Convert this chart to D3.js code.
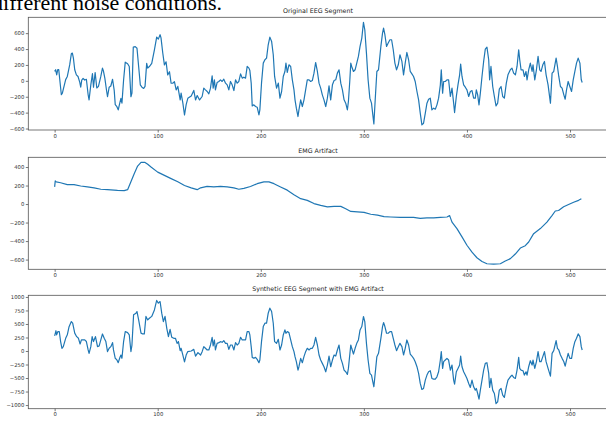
<!DOCTYPE html>
<html>
<head>
<meta charset="utf-8">
<script src="https://cdn.jsdelivr.net/npm/d3@7"></script>
<style>
  body { margin: 0; background: #fff; }
  #chart { width: 606px; height: 421px; overflow: hidden; }
</style>
</head>
<body>
<div id="chart"></div>
<script>
// titles + ticks
var titles = ["Original EEG Segment", "EMG Artifact", "Synthetic EEG Segment with EMG Artifact"];
var xTicks = [0, 100, 200, 300, 400, 500];
var eegTicks = [-600, -400, -200, 0, 200, 400, 600];
var emgTicks = [-600, -400, -200, 0, 200, 400];
var synTicks = [-1000, -750, -500, -250, 0, 250, 500, 750, 1000];
var nSamples = 512;

// original EEG, sample index / value
var eegIdx = [0, 1, 2, 3, 4, 6.5, 7.5, 10.7, 12.3, 14.6, 16.2, 17.2, 18.2, 19.5, 21.1, 22.7, 24.4, 25.3, 26.3, 27.6, 29.2, 30.8, 32.5, 33.4, 35.1, 36.7, 37.7, 39.3, 40.9, 42.5, 44.8, 46.4, 47.4, 48.7, 50.3, 51.3, 52.9, 54.5, 56.2, 57.8, 58.8, 60.4, 61.7, 63.3, 64.3, 65.3, 66.9, 68.5, 70.8, 72.4, 74, 75, 76.3, 78.2, 79.9, 81.5, 83.1, 84.7, 86.4, 87.7, 89.3, 90.3, 91.9, 94.2, 96.8, 99, 100.6, 102.3, 103.2, 104.9, 106.5, 108.1, 109.7, 111.4, 113, 114.6, 116.2, 117.9, 119.5, 121.8, 122.7, 124.4, 126, 127.6, 129.2, 132.5, 135, 136.7, 138.3, 140.6,
  143.1, 144.7, 146.3, 148, 149.6, 151.2, 152.8, 153.8, 155, 156, 157.6, 159.3, 160.9, 162.5, 164.1, 165.8, 167.4, 169, 170.6, 172.2, 173.9, 175.5, 177.1, 178.7, 180.4, 182, 183.6, 185.2, 186.8, 188.5, 189.4, 190.7, 191.7, 193.3, 194.9, 196.5, 198.2, 199.1, 200.7, 202.4, 204, 205.6, 207.2, 208.8, 210.5, 212.1, 213.4, 215.3, 217, 218.6, 220.2, 221.8, 223.4, 224.4, 225.7, 227.3, 229, 230.6, 232.2, 233.2, 234.5, 236.1, 237, 238.7, 240.3, 241.9, 243.5, 245.1, 246.8, 248.4, 250, 251.6, 253.2, 254.9, 256.5, 258.1, 259.7, 261.3, 263, 264.6, 266.2, 267.8, 269.5, 271.1, 272.7, 274.3, 275.9, 277.6, 279.2, 280.8, 282.4, 284, 285, 286.3, 287.3, 288.2, 289.9, 291.5, 293.1, 294.7, 296.3, 298, 299.6, 300.9, 302.5, 304.1, 305.8, 307.4, 308.7, 309.7, 311, 312.6, 314.2, 316.5, 318.1, 319.1, 320.4, 322, 323.6, 325.3, 326.9, 328.5, 330.1, 331.7, 333.4, 335,
  336.9, 338.5, 340.1, 341.7, 343.4, 345, 346.6, 348.2, 349.8, 351.5, 353.1, 354.7, 356.3, 357.9, 359.6, 361.2, 362.8, 364.4, 366, 367.7, 369.3, 370.9, 372.5, 374.2, 375.1, 376.4, 377.4, 379, 380.6, 382.2, 383.9, 385.5, 387.1, 388, 389.7, 391.3, 392.9, 393.9, 395.2, 396.8, 398.4, 400, 401.7, 403.3, 404.9, 406.5, 408.1, 409.1, 410.4, 411.7, 413, 414.6, 416.2, 417.8, 419.4, 421.1, 422, 423.3, 425, 426.6, 428.2, 429.8, 431.4, 433.1, 434.7, 436.3, 438.2, 439.8, 442.1, 443.7, 445.3, 447, 448.6, 450.2, 451.2, 452.5, 454.4, 455.7, 457.3, 458.3, 459.9, 461.5, 463.2, 464.1, 465.8, 467.4, 469, 470.6, 471.9, 473.6, 475.2, 476.8, 478.7, 481, 482.6, 484.2, 486.5, 487.8, 489.1, 490.7, 492.3, 494, 495.3, 496.6, 498.2, 499.8, 501.5, 503.1, 504.7, 506.3, 507.9, 509.6, 510.9, 511.8];
var eegVal = [120, 140, 75, 140, 140, -175, -155, 15, 55, 200, 340, 350, 285, 140, 75, 55, -20, -80, 10, 30, 10, 20, -175, -240, -50, 90, -80, 105, -90, -70, 55, 160, 120, 35, -115, -200, -80, -65, 20, -120, -300, -325, -365, -275, -220, -280, 10, 235, 215, 180, -200, -155, 425, 430, 410, 180, -50, -80, -95, -70, 220, 160, 180, 220, 390, 550, 525, 580, 540, 350, 200, 240, 75, 115, -30, -30, -10, -115, -70, -240, -155, -280, -430, -300, -220, -190, -120, -240, -185, -240,
  -197, -92, -113, -134, -164, -92, 63, -92, 13, -113, -21, -8, 13, -8, 21, -29, -50, -113, -8, -50, -122, 13, -29, -8, 88, 34, 46, 34, 181, 160, 130, -29, -315, -302, -323, -332, -428, -365, -29, 223, 265, 286, 454, 550, 496, 328, 55, -92, -29, -218, -134, 55, 118, 223, 105, 202, 181, 13, -113, -239, -344, -449, -365, -239, -323, -239, -113, 13, 13, -8, 4, 97, 231, 118, -29, -92, -176, -239, -323, -218, -63, -239, -50, 4, 13, 97, 139, -29, -113, -239, -281, -365, -260, -8, 223, 181, 118, 139, 223, 307, 433, 538, 735, 643, 349, 13, -218, -281, -428, -541, -239, 118, 139, 433, 601, 664, 580, 433, 475, 517, 517, 391, 223, 139, 202, 328,
  244, 76, 223, 357, 265, 118, 88, 55, -8, -134, -239, -407, -554, -533, -407, -281, -231, -218, -365, -344, -357, -302, -218, -50, 139, -155, -8, -8, 13, 13, -197, -92, -281, -399, -197, -50, 76, 210, 55, -50, -80, -113, -197, -134, -122, -218, -218, -113, -176, -302, -155, 55, 244, 399, 424, 265, 13, 181, -71, -197, -315, -281, -105, -71, -197, -218, -29, 76, 139, 160, 97, 76, 181, 391, 265, 139, 139, 55, 118, 13, 139, 223, 118, 202, 13, 139, 307, 139, 118, 202, 244, 76, -50, -281, 97, 118, 286, 181, 55, -71, -92, -176, -231, -113, -8, -71, -134, 13, 118, 223, 286, 223, 13, -21];

// EMG artifact
var emgIdx = [0, 0.6, 1.6, 5.8, 12.3, 18.8, 25.3, 31.8, 38.3, 44.8, 51.3, 61, 67.5, 70.8, 74, 77.3, 80.5, 83.8, 87.7, 90.3, 93.5, 100, 106.5, 113, 119.5, 126, 132.5, 138.3, 141.6, 147.9, 154.4, 160.9, 167.4, 173.9, 178.7, 183.6, 190, 196.5, 203, 207.9, 212.8, 219.2, 225.7, 232.2, 238.7, 245.1, 251.6, 258.1, 264.6, 271.1, 277.6, 282.4, 287.3, 293.8, 300.2, 306.7, 313.2, 319.6, 326.1, 335.3, 341.7, 348.2, 354.7, 361.2, 367.7, 374.2, 380.6, 383.2, 385.5, 390.3, 395.2, 400, 404.9, 409.7, 414.6, 419.4, 425.9, 432.4, 437.2, 442.1, 446.9, 451.8, 456.6, 459.9, 464.7, 471.2, 477.6, 482.5, 485.7, 488.9, 493.8, 498.6, 503.5, 508.3, 511];
var emgVal = [185, 250, 240, 230, 210, 210, 195, 185, 175, 160, 155, 148, 145, 155, 240, 330, 410, 450, 450, 430, 400, 345, 310, 275, 240, 200, 175, 155, 175, 190, 185, 190, 185, 175, 160, 170, 190, 220, 240, 240, 220, 185, 150, 100, 58, 40, 5, -15, -30, -25, -25, -50, -80, -85, -90, -110, -120, -135, -140, -145, -145, -145, -155, -150, -150, -145, -140, -125, -195, -265, -355, -445, -520, -580, -620, -645, -650, -645, -615, -590, -540, -475, -450, -410, -320, -265, -195, -125, -75, -70, -30, -5, 20, 40, 58];

// synthetic EEG with EMG
var synIdx = [0, 1.3, 1.9, 3.2, 4.5, 5.8, 7.1, 8.4, 10.7, 12.3, 14, 16.2, 17.5, 19.5, 21.4, 23.1, 24.7, 26, 27.6, 29.2, 30.8, 32.5, 33.4, 35.1, 36.4, 37.7, 39.6, 41.6, 43.2, 44.8, 46.4, 48.1, 49.7, 51.3, 52.9, 54.5, 56.2, 57.1, 58.8, 60.4, 61.7, 63.3, 64.3, 65.3, 66.9, 68.5, 70.8, 72.4, 74, 75, 76.6, 78.9, 79.9, 81.5, 83.8, 85.4, 87, 88.6, 90.3, 91.9, 94.2, 96.8, 99, 100.6, 102.3, 103.9, 105.5, 107.1, 108.8, 110.4, 112, 113.6, 115.6, 117.2, 118.8, 120.1, 121.8, 122.7, 124.4, 126, 127.6, 129.2, 132.5, 135, 136.7, 139, 141.6,
  143.1, 144.7, 146.3, 148, 149.6, 151.2, 152.8, 153.8, 155, 156, 157.6, 159.3, 160.9, 162.5, 164.1, 165.8, 167.4, 169, 170.6, 172.2, 173.9, 175.5, 177.1, 178.7, 180.4, 182, 183.6, 185.2, 186.8, 188.5, 189.4, 190.7, 191.7, 193.3, 194.9, 196.5, 198.2, 199.1, 200.7, 202.4, 204, 205.6, 207.2, 208.8, 210.5, 212.1, 213.4, 215.3, 217, 218.6, 220.2, 221.8, 223.4, 224.4, 225.7, 227.3, 229, 230.6, 232.2, 233.2, 234.5, 236.1, 237, 238.7, 240.3, 241.9, 243.5, 245.1, 246.8, 248.4, 250, 251.6, 253.2, 254.9, 256.5, 258.1, 259.7, 261.3, 263, 264.6, 266.2, 267.8, 269.5, 271.1, 272.7, 274.3, 275.9, 277.6, 279.2, 280.8, 282.4, 284, 285, 286.3, 287.3, 288.2, 289.9, 291.5, 293.1, 294.7, 296.3, 298, 299.6, 300.9, 302.5, 304.1, 305.8, 307.4, 308.7, 309.7, 311, 312.6, 314.2, 316.5, 318.1, 319.1, 320.4, 322, 323.6, 325.3, 326.9, 328.5, 330.1, 331.7, 333.4, 335,
  336.9, 338.5, 340.1, 341.7, 343.4, 345, 346.6, 348.2, 349.8, 351.5, 353.1, 354.7, 356.3, 357.9, 359.6, 361.2, 362.8, 364.4, 366, 367.7, 369.3, 370.9, 372.5, 374.2, 375.1, 376.4, 377.4, 379, 380.6, 382.2, 383.9, 385.5, 387.1, 388, 389.7, 391.3, 392.9, 393.9, 395.2, 396.8, 398.4, 400, 401.7, 403.3, 404.9, 406.5, 408.1, 409.1, 410.4, 411.7, 413, 414.6, 416.2, 417.8, 419.4, 421.1, 422, 423.3, 425, 426.6, 428.2, 429.8, 431.4, 433.1, 434.7, 436.3, 438.2, 439.8, 442.1, 443.7, 445.3, 447, 448.6, 450.2, 451.2, 452.5, 454.4, 455.7, 457.3, 458.3, 459.9, 461.5, 463.2, 464.1, 465.8, 467.4, 469, 470.6, 471.9, 473.6, 475.2, 476.8, 478.7, 481, 482.6, 484.2, 486.5, 487.8, 489.1, 490.7, 492.3, 494, 495.3, 496.6, 498.2, 499.8, 501.5, 503.1, 504.7, 506.3, 507.9, 509.6, 510.9, 511.8];
var synVal = [280, 375, 300, 360, 360, 175, 50, 80, 235, 300, 450, 545, 515, 330, 265, 235, 130, 205, 205, 205, 175, 20, -45, 80, 265, 175, 265, 80, 95, 205, 315, 235, 175, -10, 50, 80, 155, 20, -135, -165, -215, -120, -75, -135, 175, 360, 340, 300, -10, 110, 670, 700, 730, 575, 330, 315, 315, 640, 575, 605, 640, 760, 935, 885, 915, 700, 545, 640, 420, 265, 400, 255, 235, 235, 140, 175, 5, 50, -75, -200, -75, -10, 0, 30, -95, -30, -75,
  -12, 80, 50, 19, 19, 111, 254, 93, 204, 19, 142, 155, 173, 161, 192, 142, 142, 31, 111, 111, 19, 155, 111, 142, 254, 204, 204, 204, 359, 359, 297, 80, -118, -136, -118, -155, -217, -167, 173, 452, 514, 514, 699, 792, 730, 514, 173, 142, 217, 19, 111, 297, 390, 328, 359, 340, 204, 80, -12, -105, -198, -353, -291, -136, -217, -105, -12, 50, 19, 50, 50, 111, 254, 111, -74, -167, -229, -291, -384, -260, -93, -291, -167, -74, -93, 19, 111, -136, -229, -353, -384, -433, -322, -74, 111, 50, -56, 50, 142, 204, 390, 452, 638, 545, 142, -167, -415, -446, -569, -662, -415, -105, -43, 235, 452, 526, 452, 328, 328, 359, 359, 235, 111, 6, 80, 142,
  80, -74, 50, 204, 111, -56, -93, -136, -198, -291, -415, -600, -712, -693, -539, -446, -384, -365, -508, -520, -520, -477, -384, -167, -12, -322, -198, -167, -136, -167, -353, -260, -539, -613, -384, -322, -260, -93, -291, -384, -446, -508, -600, -675, -539, -662, -724, -693, -786, -891, -724, -539, -353, -229, -217, -415, -675, -508, -724, -786, -972, -941, -724, -693, -817, -860, -662, -539, -477, -446, -489, -508, -353, -118, -322, -353, -365, -446, -384, -446, -291, -180, -260, -167, -322, -198, -12, -198, -198, -105, -12, -198, -322, -464, -43, 6, 192, 50, 19, -74, -136, -198, -279, -167, -43, -136, -136, 50, 173, 235, 316, 266, 80, 19];

var width = 606, height = 421;
var left = 28.3, right = 607.7;

var svg = d3.select("#chart").append("svg")
    .attr("width", width)
    .attr("height", height)
    .style("font-family", "'DejaVu Sans', sans-serif");

// caption line of the surrounding page, cut off at the top like in the source
svg.append("text")
    .attr("x", 222)
    .attr("y", 9.5)
    .attr("text-anchor", "end")
    .style("font-family", "'Liberation Serif', 'Times New Roman', serif")
    .style("font-size", "22px")
    .attr("fill", "#000")
    .text("different noise conditions.");

var x = d3.scaleLinear()
    .domain([-0.05 * (nSamples - 1), (nSamples - 1) * 1.05])
    .range([left, right]);

var fmt = d3.format("d");

var panels = [
    { title: titles[0], idx: eegIdx, val: eegVal, ticks: eegTicks, top: 17.3, bottom: 130 },
    { title: titles[1], idx: emgIdx, val: emgVal, ticks: emgTicks, top: 157.3, bottom: 269.3 },
    { title: titles[2], idx: synIdx, val: synVal, ticks: synTicks, top: 295.3, bottom: 408.7 }
];

panels.forEach(function (p) {
    var lo = d3.min(p.val), hi = d3.max(p.val);
    var pad = (hi - lo) * 0.05;
    var y = d3.scaleLinear()
        .domain([lo - pad, hi + pad])
        .range([p.bottom, p.top]);

    var g = svg.append("g");

    var pts = p.idx.map(function (d, i) { return [d, p.val[i]]; });
    var line = d3.line()
        .x(d => x(d[0]))
        .y(d => y(d[1]));

    g.append("path")
        .datum(pts)
        .attr("d", line)
        .attr("fill", "none")
        .attr("stroke", "#1f77b4")
        .attr("stroke-width", 1.2)
        .attr("stroke-linejoin", "round");

    // frame
    g.append("rect")
        .attr("x", left)
        .attr("y", p.top)
        .attr("width", right - left)
        .attr("height", p.bottom - p.top)
        .attr("fill", "none")
        .attr("stroke", "#555")
        .attr("stroke-width", 0.8);

    var yAxis = d3.axisLeft(y)
        .tickValues(p.ticks)
        .tickFormat(fmt)
        .tickSize(2.5)
        .tickPadding(1.5);
    var ya = g.append("g")
        .attr("transform", "translate(" + left + ",0)")
        .call(yAxis);

    var xAxis = d3.axisBottom(x)
        .tickValues(xTicks)
        .tickFormat(fmt)
        .tickSize(2.5)
        .tickPadding(1.5);
    var xa = g.append("g")
        .attr("transform", "translate(0," + p.bottom + ")")
        .call(xAxis);

    [ya, xa].forEach(function (a) {
        a.select(".domain").remove();
        a.selectAll(".tick line").attr("stroke", "#555").attr("stroke-width", 0.8);
        a.selectAll(".tick text")
            .attr("fill", "#333")
            .style("font-size", "5.3px")
            .style("font-family", "'DejaVu Sans', sans-serif");
    });

    g.append("text")
        .attr("x", (left + right) / 2)
        .attr("y", p.top - 4)
        .attr("text-anchor", "middle")
        .attr("fill", "#222")
        .style("font-size", "6.3px")
        .text(p.title);
});
</script>
</body>
</html>
